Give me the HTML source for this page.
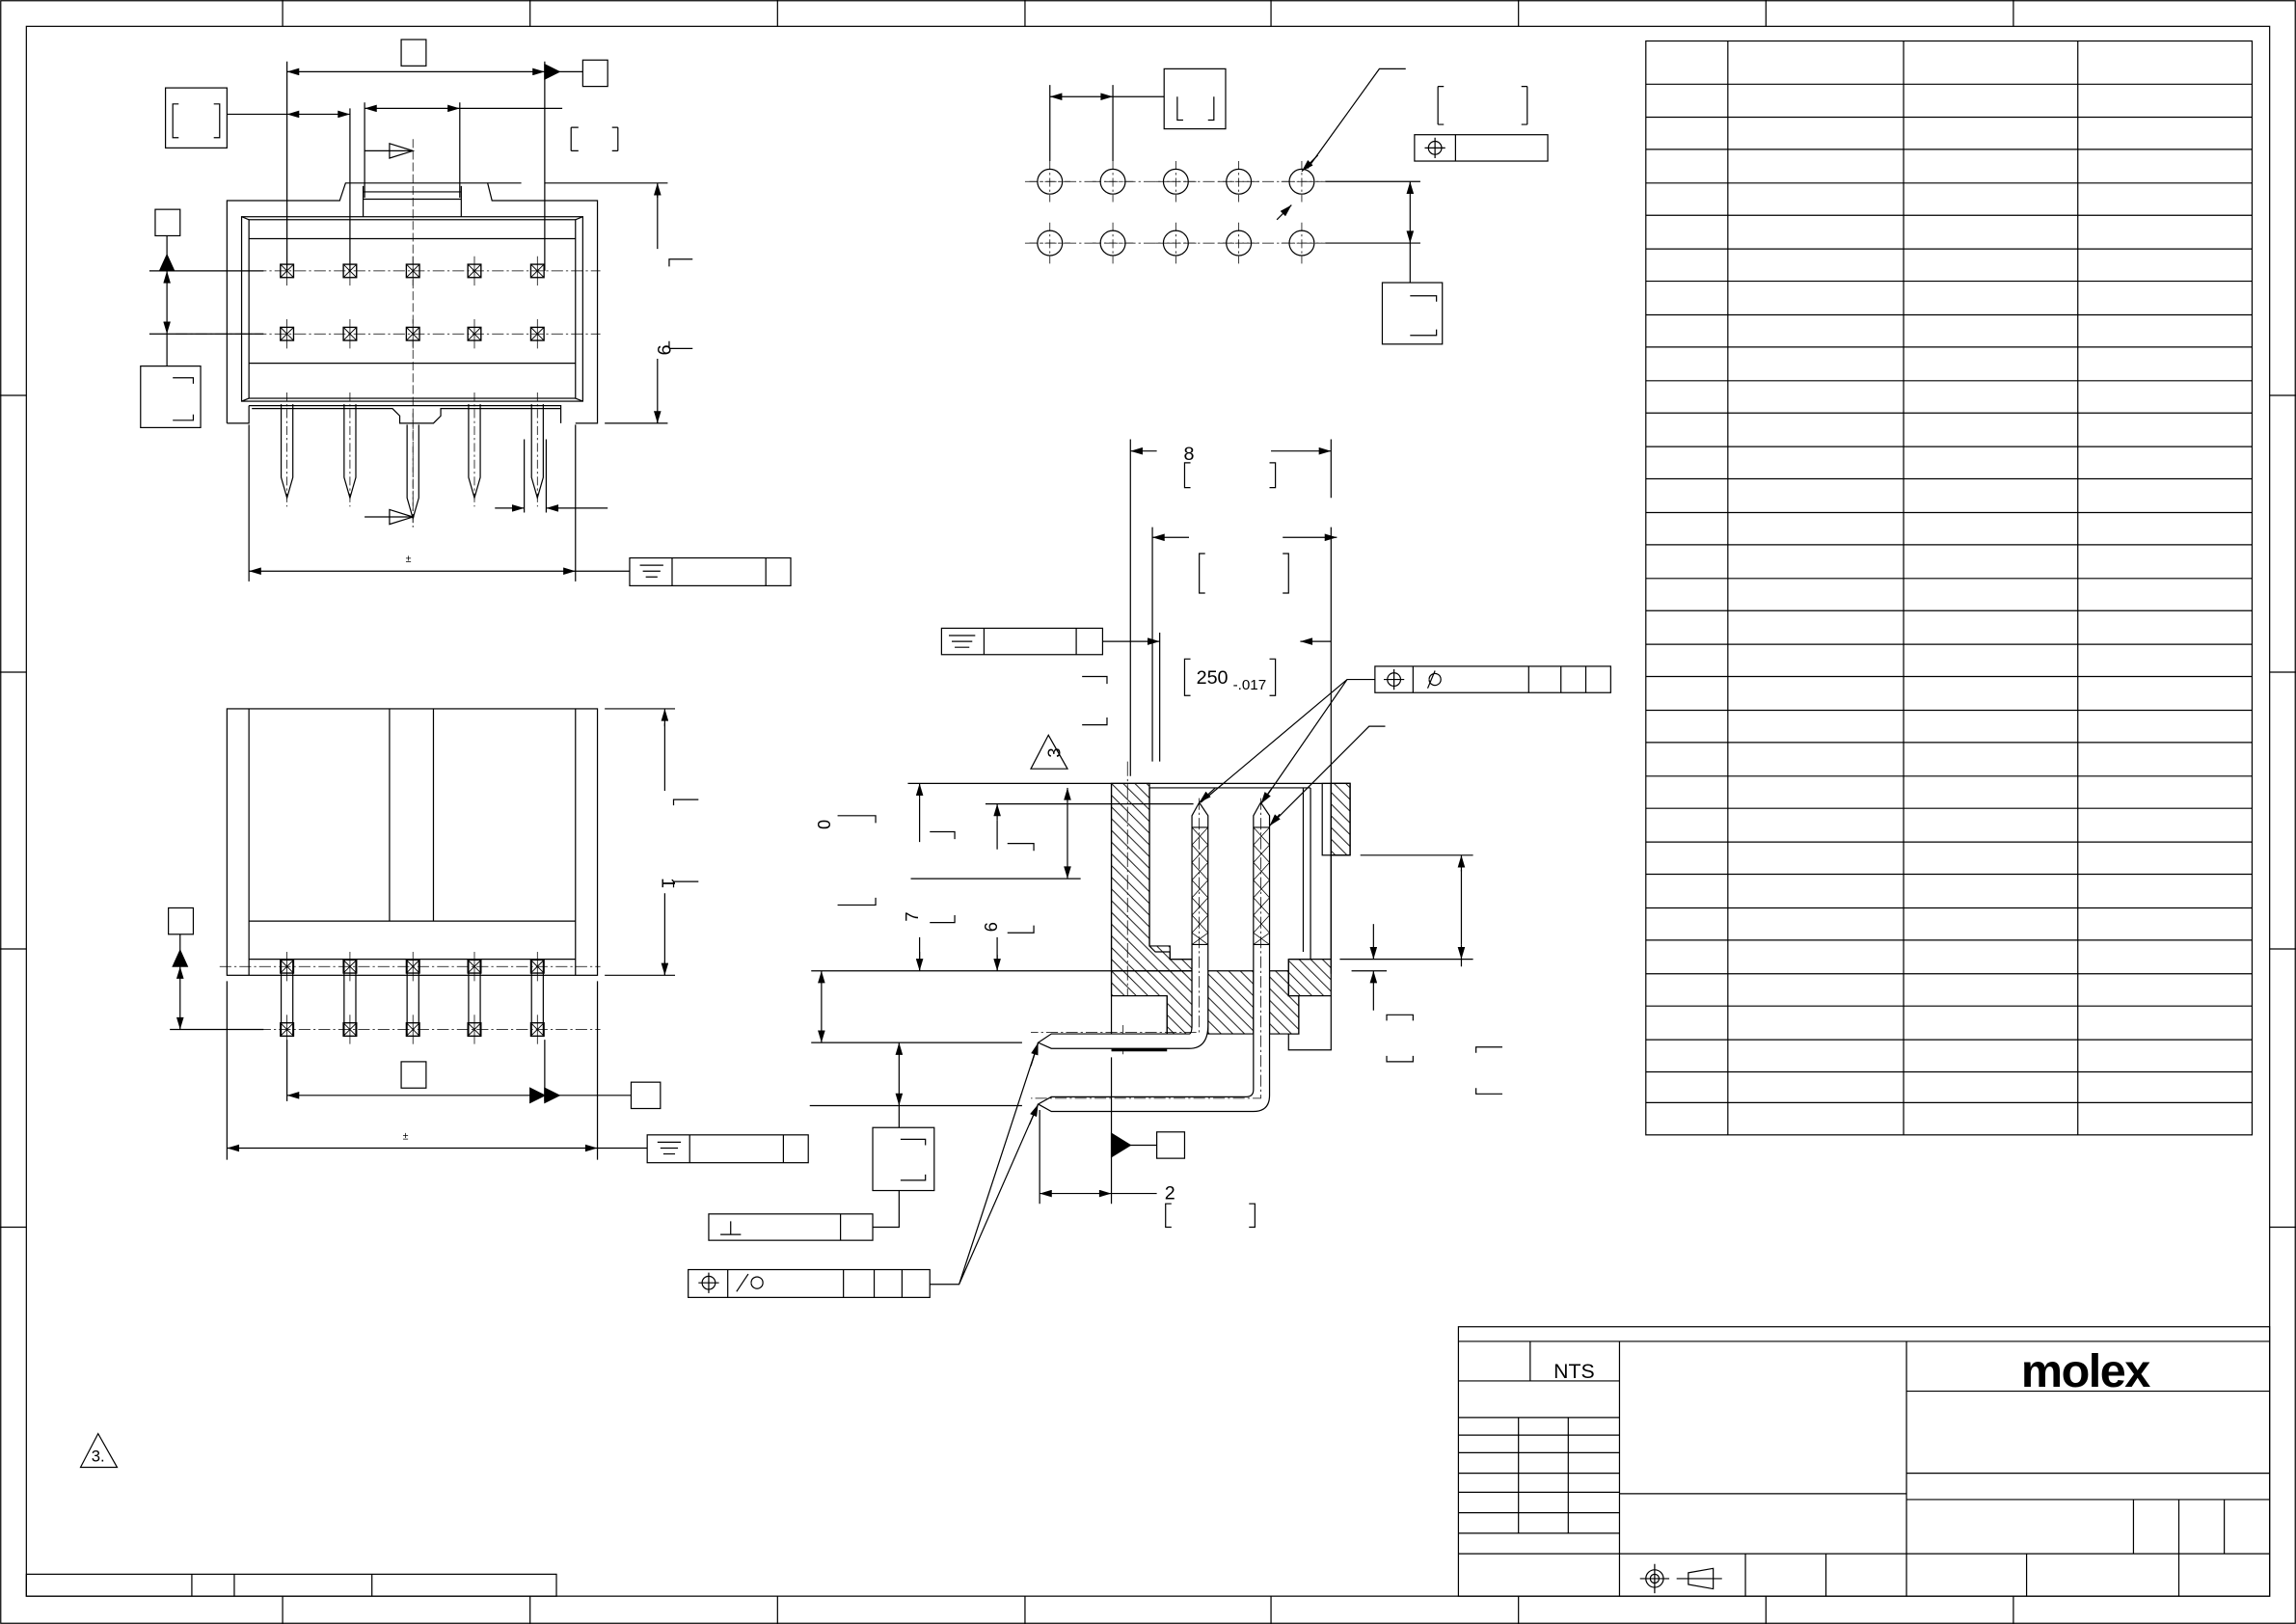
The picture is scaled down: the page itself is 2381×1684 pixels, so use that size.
<!DOCTYPE html>
<html><head><meta charset="utf-8"><style>html,body{margin:0;padding:0;background:#fff}svg{display:block}</style></head><body>
<svg width="2381" height="1684" viewBox="0 0 1568 1109" preserveAspectRatio="none" xmlns="http://www.w3.org/2000/svg" font-family="Liberation Sans, sans-serif" fill="none" stroke="#000" stroke-width="0.8">
<defs>
<pattern id="h" width="8" height="8" patternUnits="userSpaceOnUse"><path d="M-2,-2 L10,10 M-2,6 L2,10 M6,-2 L10,2" stroke="#000" stroke-width="0.6"/></pattern>
<marker id="a" viewBox="0 0 10 6" refX="10" refY="3" markerWidth="9" markerHeight="5" orient="auto-start-reverse" markerUnits="userSpaceOnUse"><path d="M0,0 L10,3 L0,6z" fill="#000" stroke="none"/></marker>
<g id="sq"><rect x="-4.5" y="-4.5" width="9" height="9" stroke-width="0.9"/><path d="M-4.5,-4.5L4.5,4.5M4.5,-4.5L-4.5,4.5" stroke-width="0.6"/><path d="M0,-10V10" stroke-width="0.5"/></g>
<g id="ho"><circle r="8.5"/><path d="M-14,0H14M0,-14V14" stroke-width="0.5" stroke-dasharray="6,2,1.5,2"/></g>
<g id="pin"><path d="M-4,0V50L0,64L4,50V0" /><path d="M0,-8V70" stroke-width="0.5" stroke-dasharray="6,2,1.5,2"/></g>
</defs>
<rect width="1568" height="1109" fill="#fff" stroke="none"/>
<rect x="0.5" y="0.5" width="1567" height="1108"/>
<rect x="18" y="18" width="1532" height="1072"/>
<path d="M193,0V18M362,0V18M531,0V18M700,0V18M868,0V18M1037,0V18M1206,0V18M1375,0V18M193,1090V1109M362,1090V1109M531,1090V1109M700,1090V1109M868,1090V1109M1037,1090V1109M1206,1090V1109M1375,1090V1109M0,270H18M0,459H18M0,648H18M0,838H18M1550,270H1568M1550,459H1568M1550,648H1568M1550,838H1568"/>
<rect x="1124" y="28" width="414" height="747"/>
<path d="M1180,28V775M1300,28V775M1419,28V775"/>
<path d="M1124,57.5H1538M1124,80H1538M1124,102H1538M1124,125H1538M1124,147H1538M1124,170H1538M1124,192H1538M1124,215H1538M1124,237H1538M1124,260H1538M1124,282H1538M1124,305H1538M1124,327H1538M1124,350H1538M1124,372H1538M1124,395H1538M1124,417H1538M1124,440H1538M1124,462H1538M1124,485H1538M1124,507H1538M1124,530H1538M1124,552H1538M1124,575H1538M1124,597H1538M1124,620H1538M1124,642H1538M1124,665H1538M1124,687H1538M1124,710H1538M1124,732H1538M1124,753H1538"/>
<rect x="996" y="906" width="554" height="184"/>
<path d="M996,916H1550M1106,916V1090M1302,916V1090M996,943H1106M1045,916V943M996,968H1106M1037,968V1047M1071,968V1047M996,980H1106M996,992H1106M996,1006H1106M996,1019H1106M996,1033H1106M996,1047H1106M996,1061H1106M1106,1020H1302M1106,1061H1302M1192,1061V1090M1247,1061V1090M1302,950H1550M1302,1006H1550M1302,1024H1550M1302,1061H1550M1457,1024V1061M1488,1024V1061M1519,1024V1061M1384,1061V1090M1488,1061V1090"/>
<text x="1075" y="941" font-size="14" fill="#000" stroke="none" text-anchor="middle">NTS</text>
<text x="1424" y="947" font-size="32" font-weight="bold" fill="#000" stroke="none" text-anchor="middle" letter-spacing="-1">molex</text>
<circle cx="1130" cy="1078" r="6"/><circle cx="1130" cy="1078" r="3"/><path d="M1120,1078H1140M1130,1068V1088"/>
<path d="M1153,1074L1170,1071V1085L1153,1082Z M1145,1078H1176"/>
<rect x="18" y="1075" width="362" height="15"/><path d="M131,1075V1090M160,1075V1090M254,1075V1090"/>
<path d="M55,1002L67,979L80,1002Z"/><text x="67" y="998" font-size="11" fill="#000" stroke="none" text-anchor="middle">3.</text>

<path d="M155,289V137H232L236,125H333L336,137H408V289H393"/>
<rect x="165" y="148" width="233" height="126"/>
<rect x="170" y="150" width="223" height="122"/>
<path d="M170,163H393M170,248H393M248,127V148M248,131H315M248,136H315M315,127V148M165,148L170,150M398,148L393,150M165,274L170,272M398,274L393,272"/>
<path d="M170,277V289H155M170,277H383V289"/>
<path d="M172,279H268L273,284V289H296L301,284V279H383" />
<path d="M120,185H410M120,228H410" stroke-width="0.5" stroke-dasharray="8,2,1.5,2"/>
<path d="M282,95V360" stroke-width="0.5" stroke-dasharray="6,2"/>
<use href="#sq" x="196" y="185"/><use href="#sq" x="239" y="185"/><use href="#sq" x="282" y="185"/><use href="#sq" x="324" y="185"/><use href="#sq" x="367" y="185"/>
<use href="#sq" x="196" y="228"/><use href="#sq" x="239" y="228"/><use href="#sq" x="282" y="228"/><use href="#sq" x="324" y="228"/><use href="#sq" x="367" y="228"/>
<use href="#pin" x="196" y="276"/><use href="#pin" x="239" y="276"/><use href="#pin" x="282" y="290"/><use href="#pin" x="324" y="276"/><use href="#pin" x="367" y="276"/>
<path d="M196,42V185M372,42V185"/><path d="M196,49H372" marker-start="url(#a)" marker-end="url(#a)"/>
<path d="M372,49H398"/><path d="M372,44L382,49L372,54Z" fill="#000"/>
<rect x="274" y="27" width="17" height="18"/><rect x="398" y="41" width="17" height="18"/>
<rect x="113" y="60" width="42" height="41"/><path d="M122,71H118V94H122M146,71H150V94H146"/>
<path d="M155,78H196"/><path d="M196,78H239" marker-start="url(#a)" marker-end="url(#a)"/><path d="M239,74V185"/>
<path d="M249,70V135M314,70V135"/><path d="M249,74H314" marker-start="url(#a)" marker-end="url(#a)"/><path d="M314,74H384"/>
<path d="M390,87H395M390,103H395M390,87V103M422,87V103M418,87H422M418,103H422"/>
<path d="M249,103H282"/><path d="M266,98L282,103L266,108Z"/>
<path d="M249,353H282"/><path d="M266,348L282,353L266,358Z"/>
<rect x="106" y="143" width="17" height="18"/>
<path d="M114,161V185"/><path d="M109,185L114,174L119,185Z" fill="#000"/>
<path d="M102,185H180M102,228H180"/><path d="M114,185V228" marker-start="url(#a)" marker-end="url(#a)"/><path d="M114,228V250"/>
<rect x="96" y="250" width="41" height="42"/><path d="M118,258H132V262M118,287H132V283"/>
<path d="M333,125H356M372,125H456M413,289H456"/><path d="M449,132V170M449,245V289" /><path d="M449,135V125" marker-end="url(#a)"/><path d="M449,285V289" marker-end="url(#a)"/>
<path d="M457,182V177H473M457,238V233M457,238H473"/>
<text x="454" y="234" font-size="13" fill="#000" stroke="none" text-anchor="middle" transform="rotate(90 449 234)">9</text>
<path d="M338,347H358"  marker-end="url(#a)"/><path d="M373,347H415" marker-start="url(#a)"/><path d="M358,300V350M373,300V350"/>
<path d="M170,290V397M393,290V397"/><path d="M170,390H393" marker-start="url(#a)" marker-end="url(#a)"/>
<path d="M393,390H430"/>
<text x="277" y="384" font-size="7" fill="#000" stroke="none">±</text>
<rect x="430" y="381" width="110" height="19"/><path d="M459,381V400M523,381V400M437,386H453M439,390H451M441,394H449"/>

<rect x="155" y="484" width="253" height="182"/>
<path d="M170,484V666M393,484V666M266,484V629M296,484V629M170,629H393M170,655H393"/>
<path d="M150,660H410M150,703H410" stroke-width="0.5" stroke-dasharray="8,2,1.5,2"/>
<g><path d="M192,655V708M200,655V708M235,655V708M243,655V708M278,655V708M286,655V708M320,655V708M328,655V708M363,655V708M371,655V708"/></g>
<use href="#sq" x="196" y="660"/><use href="#sq" x="239" y="660"/><use href="#sq" x="282" y="660"/><use href="#sq" x="324" y="660"/><use href="#sq" x="367" y="660"/>
<use href="#sq" x="196" y="703"/><use href="#sq" x="239" y="703"/><use href="#sq" x="282" y="703"/><use href="#sq" x="324" y="703"/><use href="#sq" x="367" y="703"/>
<rect x="115" y="620" width="17" height="18"/>
<path d="M123,638V660"/><path d="M118,660L123,649L128,660Z" fill="#000"/>
<path d="M116,703H180"/><path d="M123,660V703" marker-start="url(#a)" marker-end="url(#a)"/>
<path d="M196,710V752M372,710V752"/><path d="M196,748H372" marker-start="url(#a)"/><path d="M372,748H431"/><path d="M362,743L372,748L362,753Z" fill="#000"/><path d="M372,743L382,748L372,753Z" fill="#000"/>
<rect x="274" y="725" width="17" height="18"/><rect x="431" y="739" width="20" height="18"/>
<path d="M155,670V792M408,670V792"/><path d="M155,784H408" marker-start="url(#a)" marker-end="url(#a)"/><path d="M408,784H442"/>
<text x="275" y="778" font-size="7" fill="#000" stroke="none">±</text>
<rect x="442" y="775" width="110" height="19"/><path d="M471,775V794M535,775V794M449,780H465M451,784H463M453,788H461"/>
<path d="M413,484H461M413,666H461"/><path d="M454,494V540M454,610V666"/><path d="M454,496V484" marker-end="url(#a)"/><path d="M454,656V666" marker-end="url(#a)"/>
<path d="M460,550V546H477M460,606V602H477"/>
<text x="452" y="603" font-size="13" fill="#000" stroke="none" text-anchor="middle" transform="rotate(90 452 603)">1</text>

<use href="#ho" x="717" y="124"/><use href="#ho" x="760" y="124"/><use href="#ho" x="803" y="124"/><use href="#ho" x="846" y="124"/><use href="#ho" x="889" y="124"/>
<use href="#ho" x="717" y="166"/><use href="#ho" x="760" y="166"/><use href="#ho" x="803" y="166"/><use href="#ho" x="846" y="166"/><use href="#ho" x="889" y="166"/>
<path d="M700,124H905M700,166H905" stroke-width="0.5" stroke-dasharray="8,2,1.5,2"/>
<path d="M717,58V110M760,58V110"/><path d="M717,66H760" marker-start="url(#a)" marker-end="url(#a)"/><path d="M760,66H795"/>
<rect x="795" y="47" width="42" height="41"/><path d="M804,75V82H808M829,66V82H825M804,66V75"/>
<path d="M960,47H942L893,115" /><path d="M900,106L889,117" marker-end="url(#a)"/>
<path d="M872,150L882,140" marker-end="url(#a)"/>
<path d="M982,59V85M982,59H986M982,85H986M1043,59V85M1039,59H1043M1039,85H1043"/>
<rect x="966" y="92" width="91" height="18"/><path d="M994,92V110"/><circle cx="980" cy="101" r="4.5"/><path d="M973,101H987M980,94V108"/>
<path d="M905,124H970M905,166H970"/><path d="M963,124V166" marker-start="url(#a)" marker-end="url(#a)"/><path d="M963,166V193"/>
<rect x="944" y="193" width="41" height="42"/><path d="M963,202H981V206M963,229H981V225"/>

<path d="M759,535H785V646H799V655H814V663H759Z" fill="url(#h)"/>
<path d="M759,663H814V706H797V680H759Z" fill="url(#h)"/>
<path d="M825,663H856V706H825Z" fill="url(#h)"/>
<path d="M867,663H880V680H887V706H867Z" fill="url(#h)"/>
<path d="M880,655H909V680H880Z" fill="url(#h)"/>
<path d="M909,535H922V584H909Z" fill="url(#h)"/>
<path d="M759,535H909V655M759,535V706H814M785,538V646L789,650H799V655H814V663H759M797,680V706M759,680H797M880,655H895V538M890,538V650M785,538H895M880,680H909M880,655V680H887V706H880V717H909V680M909,535V655M909,535H922V584H909"/>
<path d="M770,520V680M767,700V720" stroke-width="0.5" stroke-dasharray="10,2,1.5,2"/>
<rect x="903" y="535" width="19" height="49"/>
<path d="M814,663V557L819,548L825,557V700Q825,716 812,716H718L709,712L718,706H812Q814,706 814,700Z" fill="#fff"/>
<path d="M856,663V557L861,548L867,557V748Q867,759 856,759H718L709,754L718,749H851Q856,749 856,744Z" fill="#fff"/>
<path d="M814,565H825M856,565H867M814,645H825M856,645H867"/>
<path d="M814,565L825,577L814,589L825,601L814,613L825,625L814,637L825,645M825,565L814,577L825,589L814,601L825,613L814,625L825,637L814,645" stroke-width="0.5"/>
<path d="M856,565L867,577L856,589L867,601L856,613L867,625L856,637L867,645M867,565L856,577L867,589L856,601L867,613L856,625L867,637L856,645" stroke-width="0.5"/>
<path d="M819,545V705H704M861,545V750H704" stroke-width="0.5" stroke-dasharray="8,2,1.5,2"/>
<path d="M759,717H797" stroke-width="2"/>
<path d="M772,300V530M909,300V340M909,360V665"/>
<path d="M772,308H790" marker-start="url(#a)"/><path d="M868,308H909" marker-end="url(#a)"/>
<text x="812" y="314" font-size="13" fill="#000" stroke="none" text-anchor="middle">8</text>
<path d="M813,316H809V333H813M867,316H871V333H867"/>
<path d="M787,360V520"/><path d="M787,367H812" marker-start="url(#a)"/><path d="M876,367H913" marker-end="url(#a)"/>
<path d="M823,378H819V405H823M876,378H880V405H876"/>
<path d="M753,438H792" marker-end="url(#a)"/><path d="M888,438H909" marker-start="url(#a)"/><path d="M792,432V520"/>
<rect x="643" y="429" width="110" height="18"/><path d="M672,429V447M735,429V447M648,434H666M650,438H664M652,442H662"/>
<path d="M813,450H809V475H813M867,450H871V475H867"/>
<text x="817" y="467" font-size="13" fill="#000" stroke="none">250</text><text x="842" y="471" font-size="10" fill="#000" stroke="none">-.017</text>
<path d="M739,462H756V467M739,495H756V490"/>
<path d="M704,525L716,502L729,525Z"/><text x="719" y="519" font-size="12" fill="#000" stroke="none" text-anchor="middle" transform="rotate(-90 719 514)">3</text>
<rect x="939" y="455" width="161" height="18"/><path d="M965,455V473M1044,455V473M1066,455V473M1083,455V473"/><circle cx="952" cy="464" r="4.5"/><path d="M945,464H959M952,457V471"/>
<path d="M975,470L980,458M976,464A4,4 0 1 0 976,463.9"/>
<path d="M939,464H920L820,548M920,464L862,548"/><path d="M830,538L819,548" marker-end="url(#a)"/><path d="M868,539L861,549" marker-end="url(#a)"/>
<path d="M946,496H935L868,563"/><path d="M874,556L867,564" marker-end="url(#a)"/>
<path d="M620,535H759M673,549H815M622,600H738"/>
<path d="M729,538V548" marker-start="url(#a)"/><path d="M729,548V600" marker-end="url(#a)"/>
<path d="M628,535V545" marker-start="url(#a)"/><path d="M628,545V575M628,640V663" /><path d="M628,650V663" marker-end="url(#a)"/>
<path d="M681,549V560" marker-start="url(#a)"/><path d="M681,560V580M681,640V663"/><path d="M681,652V663" marker-end="url(#a)"/>
<path d="M635,568H652V573M688,576H706V581M572,557H598V562M572,618H598V613M635,630H652V625M688,637H706V632"/>
<text x="567" y="563" font-size="12" fill="#000" stroke="none" text-anchor="middle" transform="rotate(-90 567 563)">0</text>
<text x="627" y="626" font-size="12" fill="#000" stroke="none" text-anchor="middle" transform="rotate(-90 627 626)">7</text>
<text x="681" y="633" font-size="12" fill="#000" stroke="none" text-anchor="middle" transform="rotate(-90 681 633)">6</text>
<path d="M554,663H759M554,712H698"/><path d="M561,663V712" marker-start="url(#a)" marker-end="url(#a)"/>
<path d="M553,755H698"/><path d="M614,712V755" marker-start="url(#a)" marker-end="url(#a)"/><path d="M614,755V770"/>
<rect x="596" y="770" width="42" height="43"/><path d="M615,778H632V782M615,806H632V802"/>
<path d="M614,813V838H596"/><rect x="484" y="829" width="112" height="18"/><path d="M574,829V847M492,843H506M499,843V834"/>
<rect x="470" y="867" width="165" height="19"/><path d="M497,867V886M576,867V886M597,867V886M616,867V886"/><circle cx="484" cy="876" r="4.5"/><path d="M477,876H491M484,869V883"/><path d="M503,882L511,870M513,876A4,4 0 1 0 513,875.9"/>
<path d="M635,877H655L709,712M655,877L709,754"/><path d="M704,728L709,712" marker-end="url(#a)"/><path d="M703,768L709,754" marker-end="url(#a)"/>
<path d="M759,722V822M710,758V822"/><path d="M710,815H759" marker-start="url(#a)" marker-end="url(#a)"/><path d="M759,815H790"/>
<text x="799" y="819" font-size="13" fill="#000" stroke="none" text-anchor="middle">2</text>
<path d="M800,822H796V838H800M853,822H857V838H853"/>
<path d="M759,782H790"/><path d="M759,774L772,782L759,790Z" fill="#000"/><rect x="790" y="773" width="19" height="18"/>
<path d="M929,584H1006M915,655H1006M923,663H947"/><path d="M998,594V645M998,655V660" /><path d="M998,595V584" marker-end="url(#a)"/><path d="M998,645V655" marker-end="url(#a)"/>
<path d="M938,631V655" marker-end="url(#a)"/><path d="M938,690V663" marker-end="url(#a)"/>
<path d="M947,697V693H965V697M947,721V725H965V721M1008,719V715H1026M1008,743V747H1026"/>
</svg>
</body></html>
